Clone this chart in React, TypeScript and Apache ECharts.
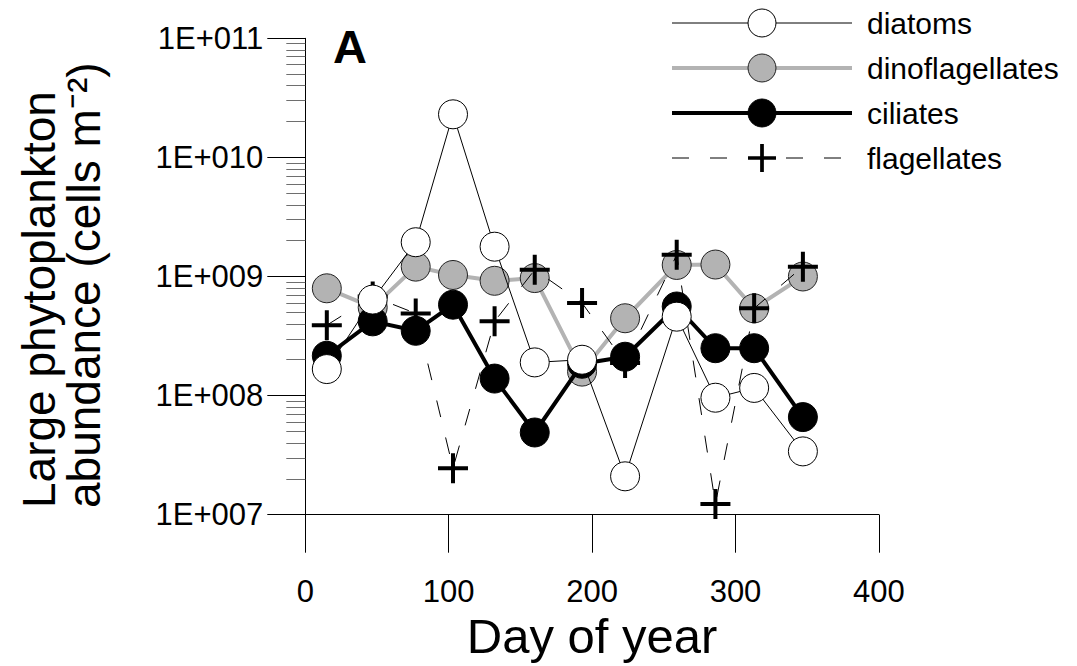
import React, { useEffect, useRef } from "react";
import * as echarts from "echarts";

const FONT = "'Liberation Sans', Arial, Helvetica, sans-serif";

const days = [15, 47, 77, 103, 132, 160, 193, 223, 259, 286, 313, 347];
const diatoms = [1.67e8, 6.4e8, 1.94e9, 2.3e10, 1.78e9, 1.9e8, 2.0e8, 2.1e7, 4.6e8, 9.6e7, 1.16e8, 3.4e7];
const dinoflagellates = [7.96e8, 5.5e8, 1.21e9, 1.03e9, 9.2e8, 9.7e8, 1.59e8, 4.46e8, 1.25e9, 1.26e9, 5.4e8, 1.0e9];
const ciliates = [2.16e8, 4.2e8, 3.5e8, 5.8e8, 1.39e8, 4.9e7, 1.85e8, 2.12e8, 5.6e8, 2.5e8, 2.5e8, 6.6e7];
const flagellates = [3.9e8, 6.8e8, 4.9e8, 2.46e7, 4.2e8, 1.14e9, 6.0e8, 1.88e8, 1.52e9, 1.23e7, 5.4e8, 1.21e9];

const seriesNames = ["diatoms", "dinoflagellates", "ciliates", "flagellates"];
const xTicks = [0, 100, 200, 300, 400];
const yDecades = [1e7, 1e8, 1e9, 1e10, 1e11];
const minorMultipliers = [2, 3, 4, 5, 6, 7, 8, 9];

const minorTickValues: number[] = [];
yDecades.slice(0, -1).forEach((d) => minorMultipliers.forEach((m) => minorTickValues.push(d * m)));

const PLUS = "path://M13,0H17V13H30V17H17V30H13V17H0V13H13Z";

const pairs = (vals: number[]) => days.map((d, i) => [d, vals[i]]);

export default function App() {
  const ref = useRef<HTMLDivElement>(null);
  useEffect(() => {
    if (!ref.current) return;
    const chart = echarts.init(ref.current, null, { renderer: "svg" });
    const fmtY = (v: number) => "1E+" + String(Math.round(Math.log10(v))).padStart(3, "0");
    chart.setOption({
      animation: false,
      backgroundColor: "#fff",
      textStyle: { fontFamily: FONT },
      grid: { left: 305.3, right: 198.1, top: 38.3, bottom: 151.3, containLabel: false },
      legend: {
        orient: "vertical",
        left: 665,
        top: 3,
        itemWidth: 180,
        itemHeight: 35,
        itemGap: 15,
        selectedMode: false,
        data: seriesNames,
        lineStyle: { width: "inherit" },
        itemStyle: { borderWidth: "inherit" },
        textStyle: { fontSize: 30, color: "#000", fontFamily: FONT, padding: [0, 0, 0, 10] },
      },
      xAxis: {
        type: "value",
        min: xTicks[0],
        max: xTicks[xTicks.length - 1],
        interval: 100,
        axisLine: { show: true, onZero: false, lineStyle: { color: "#000", width: 1 } },
        axisTick: { show: true, inside: false, length: 38, lineStyle: { color: "#000", width: 1 } },
        axisLabel: { fontSize: 31, color: "#000", margin: 61, fontFamily: FONT },
        splitLine: { show: false },
        name: "Day of year",
        nameLocation: "middle",
        nameGap: 90,
        nameTextStyle: { fontSize: 49, color: "#000", fontFamily: FONT },
      },
      yAxis: [
        {
          type: "log",
          logBase: 10,
          min: yDecades[0],
          max: yDecades[yDecades.length - 1],
          position: "left",
          axisLine: { show: true, lineStyle: { color: "#000", width: 1 } },
          axisTick: { show: true, inside: false, length: 38, customValues: yDecades, lineStyle: { color: "#000", width: 1 } },
          axisLabel: { fontSize: 31, color: "#000", margin: 42, formatter: fmtY, customValues: yDecades, fontFamily: FONT },
          splitLine: { show: false },
          minorTick: { show: false },
        },
        {
          type: "log",
          logBase: 10,
          min: yDecades[0],
          max: yDecades[yDecades.length - 1],
          position: "left",
          axisLine: { show: false },
          axisTick: { show: true, inside: false, length: 19, customValues: minorTickValues, lineStyle: { color: "#6e6e6e", width: 1 } },
          axisLabel: { show: false },
          splitLine: { show: false },
        },
      ],
      graphic: [
        {
          type: "text",
          x: 333,
          y: 46,
          style: { text: "A", font: `bold 47px ${FONT}`, fill: "#000", textAlign: "left", textVerticalAlign: "middle" },
        },
        {
          type: "text",
          x: 16,
          y: 508,
          rotation: Math.PI / 2,
          style: {
            text: "Large phytoplankton\nabundance (cells m\u207B\u00B2)",
            font: `46px ${FONT}`,
            lineHeight: 45,
            fill: "#000",
            textAlign: "left",
            textVerticalAlign: "top",
          },
        },
      ],
      series: [
        {
          name: "dinoflagellates",
          type: "line",
          data: pairs(dinoflagellates),
          symbol: "circle",
          symbolSize: 29,
          lineStyle: { color: "#b3b3b3", width: 4 },
          itemStyle: { color: "#b3b3b3", borderColor: "#222", borderWidth: 1 },
          z: 2,
        },
        {
          name: "flagellates",
          type: "line",
          data: pairs(flagellates),
          symbol: PLUS,
          symbolSize: 30,
          lineStyle: { color: "#000", width: 1, type: [17, 21] },
          itemStyle: { color: "#000", borderWidth: 0 },
          z: 3,
        },
        {
          name: "ciliates",
          type: "line",
          data: pairs(ciliates),
          symbol: "circle",
          symbolSize: 29,
          lineStyle: { color: "#000", width: 4 },
          itemStyle: { color: "#000", borderColor: "#000", borderWidth: 1 },
          z: 4,
        },
        {
          name: "diatoms",
          type: "line",
          data: pairs(diatoms),
          symbol: "circle",
          symbolSize: 29,
          lineStyle: { color: "#000", width: 1 },
          itemStyle: { color: "#fff", borderColor: "#000", borderWidth: 1 },
          z: 5,
        },
      ],
    });
    return () => chart.dispose();
  }, []);
  return <div ref={ref} style={{ position: "absolute", left: 0, top: 0, width: 1077, height: 666 }} />;
}
